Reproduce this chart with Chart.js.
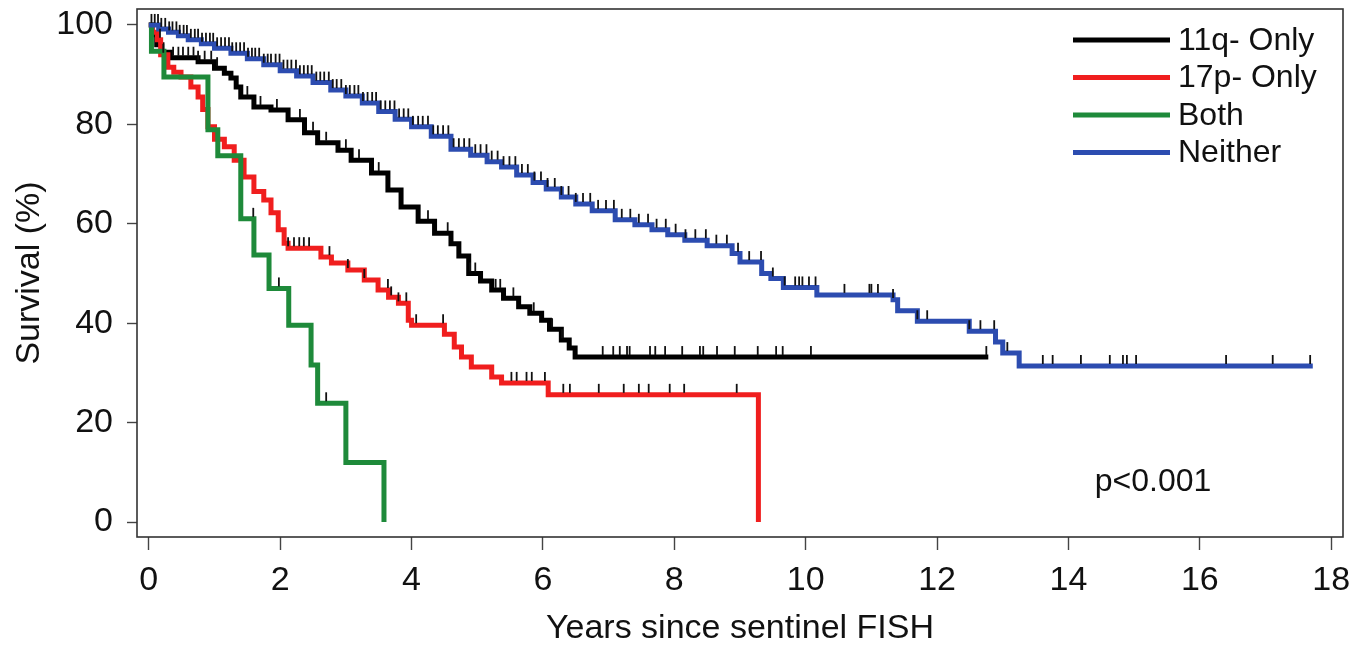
<!DOCTYPE html>
<html>

<head>
    <title>Survival by FISH group</title>
    <meta charset="utf-8">
    <style>
        body { margin: 0; background: #ffffff; }
    </style>
</head>

<body>
    <canvas id="myChart" width="1371" height="646"></canvas>

    <script src="https://cdn.jsdelivr.net/npm/chart.js"></script>
    <script>
        // groups, in legend order
        const groupNames = ["11q- Only", "17p- Only", "Both", "Neither"];

        // Kaplan-Meier steps (years, survival %)
        const t11q = [0, 0.05, 0.12, 0.2, 0.33, 0.75, 1.0, 1.15, 1.25, 1.33, 1.4, 1.6, 1.86, 2.12, 2.37, 2.57, 2.88, 3.08, 3.39, 3.64, 3.84, 4.1, 4.35, 4.6, 4.72, 4.87, 5.05, 5.22, 5.4, 5.63, 5.8, 5.98, 6.1, 6.28, 6.4, 6.49, 12.78];
        const s11q = [100, 98.0, 96.0, 94.5, 93.4, 92.6, 91.3, 90.3, 89.3, 87.5, 85.5, 83.5, 82.9, 80.9, 78.3, 76.3, 74.8, 72.8, 70.2, 66.8, 63.4, 60.5, 58.1, 56.0, 53.5, 50.0, 48.5, 46.7, 45.0, 43.3, 42.0, 40.6, 38.8, 36.6, 35.0, 33.2, 33.2];

        const t17p = [0, 0.05, 0.13, 0.18, 0.29, 0.38, 0.49, 0.64, 0.75, 0.82, 0.9, 1.0, 1.15, 1.3, 1.45, 1.6, 1.75, 1.86, 1.97, 2.06, 2.12, 2.62, 2.78, 3.03, 3.28, 3.49, 3.65, 3.8, 3.95, 4.0, 4.5, 4.65, 4.76, 4.91, 5.22, 5.37, 6.08, 9.28];
        const s17p = [100, 98.5, 97.0, 94.0, 91.5, 90.5, 89.5, 87.5, 85.5, 83.0, 79.5, 77.0, 75.5, 72.8, 69.4, 66.5, 64.8, 62.2, 58.8, 56.1, 55.1, 53.3, 52.1, 50.7, 48.7, 46.7, 45.2, 44.0, 40.6, 39.6, 37.8, 35.2, 33.2, 31.2, 29.2, 28.0, 25.6, 0];

        const tBoth = [0, 0.04, 0.23, 0.9, 1.05, 1.4, 1.6, 1.83, 2.13, 2.47, 2.57, 3.0, 3.58];
        const sBoth = [100, 94.7, 89.5, 78.9, 73.7, 61.0, 53.7, 47.0, 39.6, 31.6, 23.9, 12.0, 0];

        const tNeither = [0, 0.15, 0.3, 0.45, 0.6, 0.8, 1.0, 1.25, 1.5, 1.75, 2.0, 2.25, 2.5, 2.77, 3.0, 3.25, 3.5, 3.75, 4.0, 4.3, 4.6, 4.9, 5.15, 5.37, 5.6, 5.85, 6.05, 6.28, 6.5, 6.75, 7.1, 7.4, 7.66, 7.9, 8.16, 8.5, 8.88, 9.0, 9.33, 9.47, 9.66, 10.17, 11.33, 11.4, 11.7, 12.49, 12.89, 13.0, 13.25, 17.72];
        const sNeither = [100, 99.2, 98.5, 97.8, 97.0, 96.2, 95.3, 94.3, 93.2, 92.0, 90.8, 89.7, 88.4, 86.9, 85.7, 84.3, 82.6, 81.0, 79.5, 77.6, 75.0, 73.8, 72.5, 71.4, 69.8, 68.3, 67.0, 65.4, 64.0, 62.6, 60.8, 59.8, 58.8, 57.8, 56.7, 55.6, 54.0, 52.3, 50.0, 49.0, 47.2, 45.7, 44.7, 42.5, 40.4, 38.4, 36.2, 34.0, 31.4, 31.4];

        // censoring times (tick marks)
        const cens11q = [0.37, 0.45, 0.52, 0.6, 0.68, 0.75, 0.85, 0.95, 1.04, 1.5, 1.7, 1.95, 2.3, 2.5, 2.7, 3.0, 3.2, 3.5, 4.25, 4.55, 4.89, 4.97, 5.28, 5.35, 5.55, 5.86, 6.14, 6.29, 6.91, 7.07, 7.17, 7.28, 7.32, 7.63, 7.71, 7.86, 8.12, 8.39, 8.44, 8.65, 8.92, 9.27, 9.55, 9.65, 10.08, 12.75];
        const cens17p = [0.17, 0.22, 2.12, 2.21, 2.29, 2.36, 2.44, 2.75, 3.03, 3.28, 3.64, 3.69, 3.8, 3.92, 4.07, 4.48, 5.52, 5.6, 5.75, 5.83, 6.03, 6.31, 6.41, 6.85, 7.23, 7.46, 7.61, 7.93, 8.15, 8.95];
        const censBoth = [1.59, 1.98, 2.7];
        const censNeither = [0.04, 0.09, 0.14, 0.19, 0.25, 0.31, 0.36, 0.42, 0.47, 0.53, 0.58, 0.64, 0.7, 0.75, 0.81, 0.87, 0.93, 0.98, 1.04, 1.1, 1.16, 1.22, 1.27, 1.33, 1.39, 1.45, 1.51, 1.57, 1.62, 1.68, 1.75, 1.81, 1.86, 1.93, 1.99, 2.05, 2.11, 2.17, 2.24, 2.3, 2.36, 2.42, 2.48, 2.55, 2.61, 2.67, 2.74, 2.8, 2.86, 2.93, 3.0, 3.06, 3.13, 3.19, 3.26, 3.33, 3.4, 3.46, 3.53, 3.6, 3.67, 3.74, 3.81, 3.88, 3.95, 4.02, 4.1, 4.17, 4.25, 4.33, 4.4, 4.48, 4.56, 4.64, 4.72, 4.8, 4.88, 4.97, 5.05, 5.14, 5.22, 5.31, 5.4, 5.49, 5.58, 5.68, 5.77, 5.87, 5.97, 6.07, 6.18, 6.28, 6.39, 6.5, 6.61, 6.72, 6.84, 6.96, 7.08, 7.2, 7.33, 7.46, 7.6, 7.73, 7.87, 8.02, 8.17, 8.32, 8.48, 8.64, 8.8, 8.97, 9.14, 9.32, 9.5, 9.68, 9.84, 9.9, 9.95, 10.05, 10.15, 10.59, 10.97, 11.0, 11.1, 11.33, 11.7, 11.85, 12.49, 12.66, 12.87, 13.07, 13.61, 13.76, 14.19, 14.63, 14.83, 14.89, 15.03, 16.4, 17.11, 17.68];

        const xTicks = [0, 2, 4, 6, 8, 10, 12, 14, 16, 18];
        const yTicks = [0, 20, 40, 60, 80, 100];
        const pValueText = "p<0.001";

        const groupColors = ["#000000", "#f01e1e", "#1e8a3a", "#2c4cb0"];
        const fontFamily = "'Liberation Sans', Arial, sans-serif";

        function toPoints(t, s) {
            return t.map((x, i) => ({ x: x, y: s[i] }));
        }

        // survival value of the step curve at a given time
        function survAt(t, s, time) {
            let v = s[0];
            for (let i = 0; i < t.length; i++) {
                if (t[i] <= time) v = s[i];
            }
            return v;
        }

        function censorPoints(t, s, times) {
            return times.map(c => ({ x: c, y: survAt(t, s, c) + 1.3 }));
        }

        function curve(label, t, s, color, order) {
            return {
                label: label,
                data: toPoints(t, s),
                showLine: true,
                stepped: true,
                borderColor: color,
                borderWidth: 5,
                pointRadius: 0,
                order: order
            };
        }

        function marks(t, s, times) {
            return {
                label: "censored",
                data: censorPoints(t, s, times),
                showLine: false,
                pointStyle: "line",
                rotation: 90,
                pointRadius: 4.5,
                borderWidth: 1.8,
                borderColor: "#111111",
                order: 0
            };
        }

        const boxPlugin = {
            id: "box",
            beforeDatasetsDraw(chart) {
                const a = chart.chartArea;
                const ctx = chart.ctx;
                ctx.save();
                ctx.strokeStyle = "#333333";
                ctx.lineWidth = 1.6;
                ctx.strokeRect(a.left, a.top, a.right - a.left, a.bottom - a.top);
                ctx.restore();
            }
        };

        const legendPlugin = {
            id: "kmLegend",
            afterDraw(chart) {
                const a = chart.chartArea;
                const ctx = chart.ctx;
                ctx.save();
                ctx.font = "32px " + fontFamily;
                ctx.textBaseline = "middle";
                ctx.textAlign = "left";
                groupNames.forEach((name, i) => {
                    const y = a.top + 31 + i * 37.5;
                    ctx.strokeStyle = groupColors[i];
                    ctx.lineWidth = 5;
                    ctx.beginPath();
                    ctx.moveTo(a.right - 270, y);
                    ctx.lineTo(a.right - 173, y);
                    ctx.stroke();
                    ctx.fillStyle = "#111111";
                    ctx.fillText(name, a.right - 165, y + 1);
                });

                const xs = chart.scales.x;
                const ys = chart.scales.y;
                ctx.fillText(pValueText, xs.getPixelForValue(14.4), ys.getPixelForValue(8));
                ctx.restore();
            }
        };

        const ctx = document.getElementById("myChart");

        let chart = new Chart(ctx, {
            type: "scatter",
            data: {
                datasets: [
                    marks(t11q, s11q, cens11q),
                    marks(t17p, s17p, cens17p),
                    marks(tBoth, sBoth, censBoth),
                    marks(tNeither, sNeither, censNeither),
                    curve(groupNames[3], tNeither, sNeither, groupColors[3], 1),
                    curve(groupNames[2], tBoth, sBoth, groupColors[2], 2),
                    curve(groupNames[1], t17p, s17p, groupColors[1], 3),
                    curve(groupNames[0], t11q, s11q, groupColors[0], 4)
                ]
            },
            options: {
                responsive: false,
                animation: false,
                events: [],
                layout: {
                    padding: { left: 0, top: 9, right: 28, bottom: 0 }
                },
                plugins: {
                    legend: { display: false },
                    tooltip: { enabled: false }
                },
                scales: {
                    x: {
                        type: "linear",
                        position: "bottom",
                        min: -0.18,
                        max: 18.18,
                        afterBuildTicks: s => { s.ticks = xTicks.map(v => ({ value: v })); },
                        afterFit: s => {
                            s.height = 109;
                            s.paddingLeft = 0;
                            s.paddingRight = 0;
                        },
                        grid: {
                            drawOnChartArea: false,
                            drawTicks: true,
                            tickLength: 13,
                            tickColor: "#444444",
                            tickWidth: 1.4
                        },
                        border: { display: false },
                        ticks: {
                            padding: 10,
                            color: "#111111",
                            font: { family: fontFamily, size: 34 }
                        },
                        title: {
                            display: true,
                            text: "Years since sentinel FISH",
                            color: "#111111",
                            padding: { top: 0, bottom: 0 },
                            font: { family: fontFamily, size: 34, lineHeight: 1 }
                        }
                    },
                    y: {
                        type: "linear",
                        min: -3,
                        max: 103.2,
                        afterBuildTicks: s => { s.ticks = yTicks.map(v => ({ value: v })); },
                        afterFit: s => {
                            s.width = 137;
                            s.paddingTop = 0;
                            s.paddingBottom = 0;
                        },
                        grid: {
                            drawOnChartArea: false,
                            drawTicks: true,
                            tickLength: 10,
                            tickColor: "#444444",
                            tickWidth: 1.4
                        },
                        border: { display: false },
                        ticks: {
                            padding: 14,
                            color: "#111111",
                            font: { family: fontFamily, size: 34 }
                        },
                        title: {
                            display: true,
                            text: "Survival (%)",
                            color: "#111111",
                            padding: { top: 13, bottom: 0 },
                            font: { family: fontFamily, size: 34, lineHeight: 1 }
                        }
                    }
                }
            },
            plugins: [boxPlugin, legendPlugin]
        });
    </script>
</body>

</html>
